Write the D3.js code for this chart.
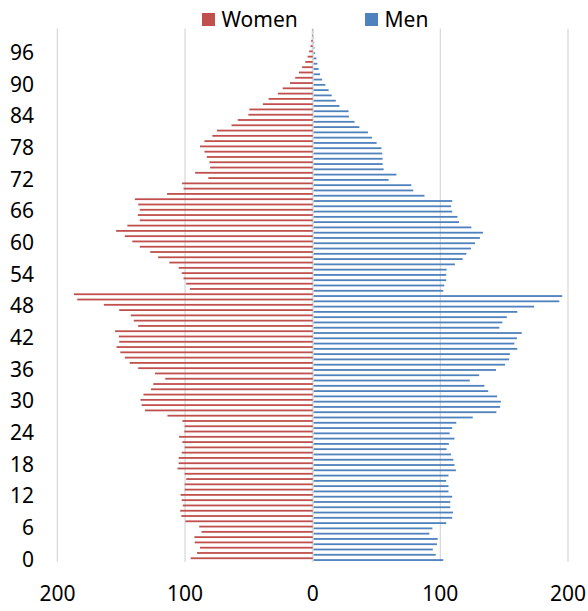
<!DOCTYPE html>
<html lang="en">
<head>
    <meta charset="UTF-8">
    <title>Population pyramid</title>
    <style>
        body { margin: 0; background: #fff; }
        text { font-family: "Noto Sans", "Open Sans", sans-serif; fill: #000; }
    </style>
</head>
<body>

    <div id="graphique"></div>

    <script src="https://d3js.org/d3.v7.min.js"></script>

    <script>

// ages 0 .. 100, one bar per year
let ages = d3.range(0, 101);

let women = [
    95.6, 90.6, 88.3, 92.4, 92.7, 87.1, 88.9, 99.7, 102.9, 103.8,
    101.8, 102.6, 103.5, 100.3, 100.3, 99.1, 100.3, 105.9, 105.0, 105.0,
    102.6, 100.3, 102.1, 104.7, 100.6, 100.3, 102.1, 113.8, 131.4, 134.0,
    134.9, 132.6, 126.7, 124.9, 115.5, 123.5, 136.7, 143.4, 147.2, 150.7,
    153.7, 151.6, 151.9, 154.8, 136.7, 140.2, 142.5, 151.6, 163.6, 184.5,
    187.1, 96.2, 99.1, 101.2, 102.6, 105.0, 112.3, 121.1, 127.3, 135.5,
    141.3, 147.2, 154.0, 145.2, 135.5, 137.0, 135.5, 136.7, 139.3, 114.1,
    101.2, 102.3, 81.8, 92.1, 80.4, 80.9, 83.0, 84.8, 88.3, 84.8,
    78.6, 75.1, 63.6, 58.7, 50.4, 49.6, 39.0, 34.6, 27.3, 23.5,
    17.8, 13.7, 10.8, 8.3, 5.8, 4.0, 2.8, 1.7, 1.2, 0.5,
    0.3
];

let men = [
    101.5, 95.6, 93.3, 96.5, 97.1, 90.6, 93.0, 103.8, 108.5, 109.1,
    107.0, 107.0, 108.5, 105.6, 105.6, 103.8, 105.6, 111.4, 110.3, 109.4,
    107.6, 104.1, 105.9, 110.3, 106.5, 108.5, 111.7, 124.6, 143.1, 146.0,
    146.6, 143.7, 136.7, 133.7, 122.3, 129.6, 142.8, 149.9, 153.1, 153.7,
    159.5, 157.2, 159.2, 163.0, 145.5, 147.8, 151.3, 159.5, 172.7, 192.4,
    194.7, 101.5, 102.3, 103.8, 103.8, 104.1, 110.6, 116.7, 119.6, 123.2,
    126.4, 130.2, 132.6, 123.5, 113.8, 112.6, 108.5, 107.6, 108.5, 86.8,
    78.0, 76.5, 58.7, 64.8, 54.8, 54.0, 54.0, 53.7, 53.1, 49.3,
    45.7, 42.5, 35.8, 32.0, 27.6, 27.3, 20.2, 17.3, 14.1, 11.7,
    9.1, 6.6, 5.0, 3.9, 2.8, 2.1, 1.1, 0.6, 0.4, 0.2,
    0.1
];

let ageTicks = [0, 6, 12, 18, 24, 30, 36, 42, 48, 54, 60, 66, 72, 78, 84, 90, 96];
let valueTicks = [-200, -100, 0, 100, 200];

let series = ['Women', 'Men'];
let colors = ['#C0504D', '#4F81BD'];


let width = 588,
    height = 611;

let plot = { left: 57.4, right: 568, top: 28.5, bottom: 561.8 };

let svg = d3.select('#graphique')
            .append('svg')
            .attr('width', width)
            .attr('height', height);

let x = d3.scaleLinear()
          .domain([-200, 200])
          .range([plot.left, plot.right]);

let y = d3.scaleBand()
          .domain(ages)
          .range([plot.bottom, plot.top]);

let barH = 1.8;

// grid
svg.append('g')
   .selectAll('line')
   .data(valueTicks)
   .enter()
   .append('line')
   .attr('x1', d => x(d))
   .attr('x2', d => x(d))
   .attr('y1', plot.top)
   .attr('y2', plot.bottom)
   .attr('stroke', '#d9d9d9')
   .attr('stroke-width', d => d === 0 ? 2 : 1.3);

// Women, to the left
svg.append('g')
   .selectAll('rect')
   .data(ages)
   .enter()
   .append('rect')
   .attr('x', d => x(-women[d]))
   .attr('y', d => y(d) + y.bandwidth() / 2 - barH)
   .attr('width', d => x(0) - x(-women[d]))
   .attr('height', barH)
   .attr('fill', colors[0]);

// Men, to the right
svg.append('g')
   .selectAll('rect')
   .data(ages)
   .enter()
   .append('rect')
   .attr('x', x(0) + 1)
   .attr('y', d => y(d) + y.bandwidth() / 2)
   .attr('width', d => x(men[d]) - x(0))
   .attr('height', barH)
   .attr('fill', colors[1]);

// Y axis labels
svg.append('g')
   .selectAll('text')
   .data(ageTicks)
   .enter()
   .append('text')
   .attr('x', 34)
   .attr('y', d => y(d) + y.bandwidth() / 2)
   .attr('dy', '0.36em')
   .attr('text-anchor', 'end')
   .style('font-size', '21px')
   .text(d => d);

// X axis labels
svg.append('g')
   .selectAll('text')
   .data(valueTicks)
   .enter()
   .append('text')
   .attr('x', d => x(d))
   .attr('y', 600.5)
   .attr('text-anchor', 'middle')
   .style('font-size', '21px')
   .text(d => Math.abs(d));

// legend
let legend = svg.append('g')
                .selectAll('g')
                .data(series)
                .enter()
                .append('g')
                .attr('transform', (d, i) => `translate(${[202, 365][i]}, 13)`);

legend.append('rect')
      .attr('width', 13)
      .attr('height', 13)
      .attr('fill', (d, i) => colors[i]);

legend.append('text')
      .attr('x', 19.5)
      .attr('y', 14.3)
      .style('font-size', '21px')
      .text(d => d);

    </script>
</body>
</html>
